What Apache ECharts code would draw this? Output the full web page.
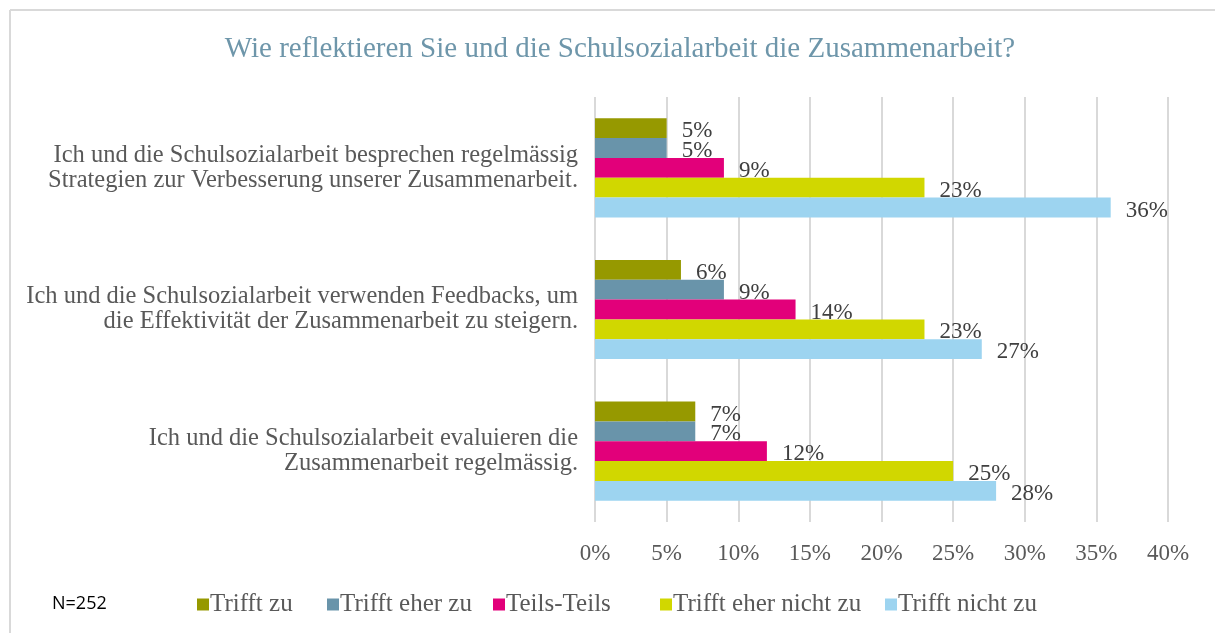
<!DOCTYPE html>
<html>
<head>
<meta charset="utf-8">
<title>Zusammenarbeit</title>
<script src="https://cdn.jsdelivr.net/npm/echarts@6/dist/echarts.min.js"></script>
<style>
  html, body { margin: 0; padding: 0; background: #fff; }
  #chart { width: 1215px; height: 633px; }
</style>
</head>
<body>
<div id="chart"></div>
<script>
// --- data ---
const categories = [
  "Ich und die Schulsozialarbeit besprechen regelmässig\nStrategien zur Verbesserung unserer Zusammenarbeit.",
  "Ich und die Schulsozialarbeit verwenden Feedbacks, um\ndie Effektivität der Zusammenarbeit zu steigern.",
  "Ich und die Schulsozialarbeit evaluieren die\nZusammenarbeit regelmässig."
];
const seriesNames = ["Trifft zu", "Trifft eher zu", "Teils-Teils", "Trifft eher nicht zu", "Trifft nicht zu"];
const trifftZu = [5, 6, 7];
const trifftEherZu = [5, 9, 7];
const teilsTeils = [9, 14, 12];
const trifftEherNichtZu = [23, 23, 25];
const trifftNichtZu = [36, 27, 28];
const seriesColors = ["#969900", "#6994aa", "#e2007a", "#d1d700", "#9dd4f0"];

const serif = '"Liberation Serif", "DejaVu Serif", serif';
// legend slot x positions (Excel spaces them unevenly)
const legendLeft = [192, 322, 488, 655, 880];

const chart = echarts.init(document.getElementById("chart"));

const values = [trifftZu, trifftEherZu, teilsTeils, trifftEherNichtZu, trifftNichtZu];

const option = {
  animation: false,
  title: {
    text: "Wie reflektieren Sie und die Schulsozialarbeit die Zusammenarbeit?",
    left: 615,
    textAlign: "center",
    top: 30,
    textStyle: { fontFamily: serif, fontSize: 29, fontWeight: "normal", color: "#6e96aa" }
  },
  grid: { left: 595, right: 47, top: 97, bottom: 111, containLabel: false },
  xAxis: {
    type: "value",
    min: 0,
    max: 40,
    interval: 5,
    axisLabel: {
      formatter: "{value}%",
      fontFamily: serif,
      fontSize: 23,
      color: "#595959",
      margin: 20
    },
    axisLine: { show: false },
    axisTick: { show: false },
    splitLine: { lineStyle: { color: "#d9d9d9", width: 2 } }
  },
  yAxis: {
    type: "category",
    inverse: true,
    data: categories,
    axisLine: { show: false },
    axisTick: { show: false },
    axisLabel: {
      fontFamily: serif,
      fontSize: 24.5,
      lineHeight: 25,
      color: "#595959",
      align: "right",
      margin: 17
    }
  },
  legend: seriesNames.map((name, i) => ({
    left: legendLeft[i],
    top: 587,
    itemWidth: 12,
    itemHeight: 12,
    icon: "rect",
    textStyle: { fontFamily: serif, fontSize: 25, color: "#595959", padding: [0, 0, 0, -4] },
    data: [name]
  })),
  graphic: [
    { type: "line", shape: { x1: 10, y1: 10, x2: 1215, y2: 10 }, style: { stroke: "#d9d9d9", lineWidth: 2 } },
    { type: "line", shape: { x1: 10, y1: 10, x2: 10, y2: 633 }, style: { stroke: "#d9d9d9", lineWidth: 2 } },
    {
      type: "text",
      left: 52,
      top: 595,
      style: { text: "N=252", font: '18px "Open Sans", "Liberation Sans", sans-serif', fill: "#000" }
    }
  ],
  series: seriesNames.map((name, i) => ({
    name: name,
    type: "bar",
    data: values[i],
    barGap: "0%",
    barCategoryGap: "30%",
    itemStyle: { color: seriesColors[i] },
    label: {
      show: true,
      position: "right",
      distance: 15,
      offset: [0, 3],
      formatter: "{c}%",
      fontFamily: serif,
      fontSize: 23,
      color: "#404040"
    }
  }))
};

chart.setOption(option);
window.addEventListener("resize", () => chart.resize());
</script>
</body>
</html>
